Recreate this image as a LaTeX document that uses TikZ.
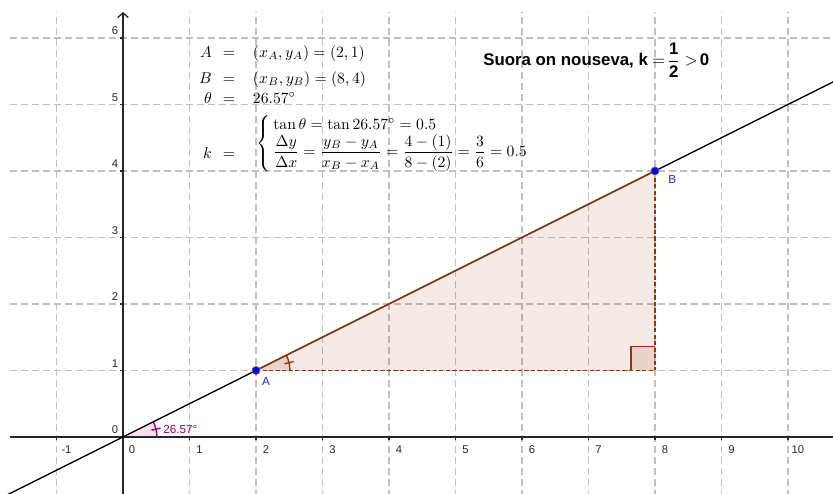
\documentclass[tikz,border=0pt]{standalone}
\usepackage{amsmath}
\usepackage{fontspec}
\newfontfamily\lab{Liberation Sans}
\usetikzlibrary{arrows.meta}
\definecolor{gridc}{RGB}{192,192,192}
\definecolor{brownc}{RGB}{153,51,0}
\definecolor{purp}{RGB}{153,0,102}
\definecolor{ptblue}{RGB}{0,0,235}
\definecolor{labblue}{RGB}{40,40,220}
\begin{document}
\begin{tikzpicture}[x=1cm,y=1cm,
  gridline/.style={gridc, line width=0.8pt, dash pattern=on 3pt off 1.7pt},
  axisline/.style={black!85, line width=0.55pt},
  ticklab/.style={font=\lab\fontsize{4.8}{6}\selectfont, inner sep=0pt, text=black!85},
  ptlab/.style={font=\lab\fontsize{5}{6}\selectfont, inner sep=0pt, text=labblue},
  ptdot/.style={circle, fill=ptblue, draw=black!60, line width=0.3pt, inner sep=0pt, minimum size=0.12cm},
  tri/.style={brownc, line width=0.6pt},
  tridash/.style={brownc, line width=0.6pt, dash pattern=on 1.8pt off 1pt},
  fm/.style={scale=0.67, inner sep=0pt}]
\useasboundingbox (-1.850,-0.857) rectangle (10.677,6.571);
\clip (-1.850,-0.857) rectangle (10.677,6.571);
% grid
\foreach \x in {-1,...,10} \draw[gridline] (\x,-0.9) -- (\x,6.39);
\foreach \y in {1,...,6} \draw[gridline] (-1.70,\y) -- (10.7,\y);
% axes
\coordinate (xl) at (-1.70,0);
\coordinate (xr) at (10.7,0);
\coordinate (yb) at (0,-0.9);
\coordinate (yt) at (0,6.39);
\draw[axisline] (xl) -- (xr);
\draw[axisline, -{Straight Barb[length=2pt,width=4.5pt]}] (yb) -- (yt);
\foreach \x in {-1,1,2,...,10} \draw[axisline] (\x,0) -- (\x,-0.045);
\foreach \y in {1,...,6} \draw[axisline] (0,\y) -- (-0.045,\y);
\foreach \x in {-1,1,2,...,10} \node[ticklab] (xt\x) at (\x+0.15,-0.195) {\x};
\node[ticklab] (xt0) at (0.135,-0.195) {0};
\foreach \y in {0,...,6} \node[ticklab] (yt\y) at (-0.12,\y+0.105) {\y};
% line
\coordinate (L1) at (-1.9,-0.95);
\coordinate (L2) at (10.8,5.4);
\draw[black, line width=0.6pt] (L1) -- (L2);
% triangle
\coordinate (A) at (2,1);
\coordinate (B) at (8,4);
\coordinate (C) at (8,1);
\fill[brownc, fill opacity=0.1] (A) -- (B) -- (C) -- cycle;
\fill[brownc, fill opacity=0.12] (7.64,1) rectangle (8,1.36);
\draw[tri] (7.64,1) -- (7.64,1.36) -- (8,1.36);
\draw[tridash] (A) -- (C);
\draw[tridash] (B) -- (C);
\draw[tri] (A) -- (B);
% angle at A
\fill[brownc, fill opacity=0.12] (A) -- ++(0.51,0) arc[start angle=0,end angle=26.565,radius=0.51] -- cycle;
\draw[tri] ([shift={(0.51,0)}]A) arc[start angle=0,end angle=26.565,radius=0.51];
\draw[tri] ([shift={(13.28:0.44)}]A) -- ([shift={(13.28:0.58)}]A);
% angle at O
\coordinate (O) at (0,0);
\fill[purp, fill opacity=0.12] (O) -- (0.51,0) arc[start angle=0,end angle=26.565,radius=0.51] -- cycle;
\draw[purp, line width=0.6pt] (0.51,0) arc[start angle=0,end angle=26.565,radius=0.51];
\draw[purp, line width=0.6pt] (13.28:0.44) -- (13.28:0.58);
\node[anchor=west, inner sep=0pt, text=purp, font=\lab\fontsize{5}{6}\selectfont] (ang) at (0.6,0.11) {26.57°};
% points
\node[ptdot] (pA) at (A) {};
\node[ptdot] (pB) at (B) {};
\node[ptlab] (lA) at (2.15,-0.165+1) {A};
\node[ptlab] (lB) at (8.26,4-0.135) {B};
% formulas
\node[fm, anchor=base east] (fA) at (1.34,5.71) {$A$};
\node[fm, anchor=base] (eA) at (1.594,5.71) {$=$};
\node[fm, anchor=base west] (rA) at (1.95,5.71) {$(x_A,y_A)=(2,1)$};
\node[fm, anchor=base east] (fB) at (1.34,5.318) {$B$};
\node[fm, anchor=base] (eB) at (1.594,5.318) {$=$};
\node[fm, anchor=base west] (rB) at (1.95,5.318) {$(x_B,y_B)=(8,4)$};
\node[fm, anchor=base east] (fT) at (1.34,5.02) {$\theta$};
\node[fm, anchor=base] (eT) at (1.594,5.02) {$=$};
\node[fm, anchor=base west] (rT) at (1.95,5.02) {$26.57^\circ$};
\node[fm, anchor=base east] (fK) at (1.34,4.19) {$k$};
\node[fm, anchor=base] (eK) at (1.594,4.19) {$=$};
\node[fm, anchor=base west] (rK) at (2.0,4.35) {$\left\{\begin{array}{@{\hspace{2pt}}l@{}}\tan\theta=\tan 26.57^\circ=0.5\\[-0.5pt]
\dfrac{\Delta y}{\Delta x}=\dfrac{y_B-y_A}{x_B-x_A}=\dfrac{4-(1)}{8-(2)}=\dfrac{3}{6}=0.5\end{array}\right.$};
\node[anchor=base west, inner sep=0pt, scale=0.72] (title) at (5.414,5.579) {\lab\bfseries Suora on nouseva, k\hspace{2.5pt}$=\!\dfrac{\text{\lab\bfseries 1}}{\text{\lab\bfseries 2}}\hspace{2.5pt}{>}\hspace{1.2pt}\text{\lab\bfseries 0}$};
\end{tikzpicture}
\end{document}
